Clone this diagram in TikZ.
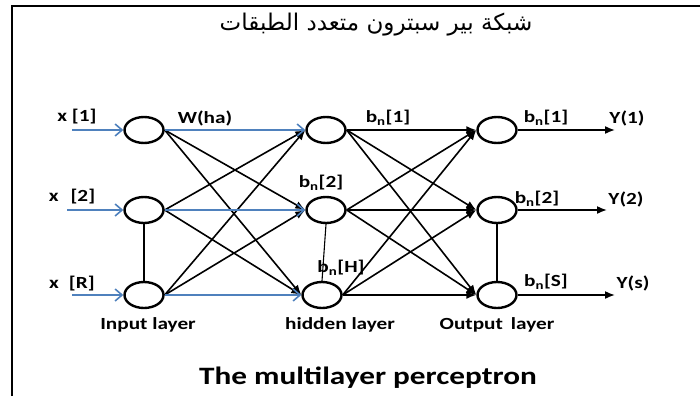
\documentclass[tikz,border=0pt]{standalone}
\usepackage{fontspec}
\setmainfont{Carlito}[FakeStretch=1.25]
\newfontfamily\arabicfont[Script=Arabic]{DejaVu Sans}
\TeXXeTstate=1
\usetikzlibrary{shapes.geometric,arrows.meta}
\definecolor{feedblue}{RGB}{79,129,189}

\begin{document}
\begin{tikzpicture}[x=1pt,y=-1pt,
    neuron/.style={draw,ellipse,line width=2.4pt,minimum width=39pt,
        minimum height=26pt,inner sep=0pt},
    feed/.style={line width=1.6pt,feedblue,
        -{Straight Barb[length=7pt,width=12pt]}},
    link/.style={line width=1.6pt,-{Latex[length=10pt,width=8pt]}},
    tie/.style={line width=1.1pt},
    lbl/.style={font=\fontsize{17}{17}\selectfont\bfseries,inner sep=0pt}]

    \useasboundingbox (0,0) rectangle (700,396);
    \draw [line width=2pt] (12,396) -- (12,6) -- (700,6);

    % neurons
    \node[neuron] (in1) at (144,130) {};
    \node[neuron] (in2) at (144,210) {};
    \node[neuron] (in3) at (144,295) {};
    \node[neuron] (hid1) at (326,130) {};
    \node[neuron] (hid2) at (326,210) {};
    \node[neuron] (hid3) at (322,295) {};
    \node[neuron] (out1) at (497,130) {};
    \node[neuron] (out2) at (497,210) {};
    \node[neuron] (out3) at (497,295) {};

    \coordinate (src1) at (72,130);
    \coordinate (src2) at (67,210);
    \coordinate (src3) at (72,295);
    \coordinate (dst1) at (615,130);
    \coordinate (dst2) at (607,210);
    \coordinate (dst3) at (615,295);

    % inputs and outputs
    \draw [feed] (src1) -- (in1.west);
    \draw [feed] (src2) -- (in2.west);
    \draw [feed] (src3) -- (in3.west);
    \draw [link] (out1.east) -- (dst1);
    \draw [link] (out2.east) -- (dst2);
    \draw [link] (out3.east) -- (dst3);

    % input layer -> hidden layer
    \draw [link] (in1.east) -- (hid2.west);
    \draw [link] (in1.east) -- (hid3.west);
    \draw [link] (in2.east) -- (hid1.west);
    \draw [link] (in2.east) -- (hid3.west);
    \draw [link] (in3.east) -- (hid1.west);
    \draw [link] (in3.east) -- (hid2.west);
    \draw [feed] (in1.east) -- (hid1.west);
    \draw [feed] (in2.east) -- (hid2.west);
    \draw [feed] (in3.east) -- (hid3.west);

    % hidden layer -> output layer
    \draw [link] (hid1.east) -- (out1.west);
    \draw [link] (hid1.east) -- (out2.west);
    \draw [link] (hid1.east) -- (out3.west);
    \draw [link] (hid2.east) -- (out1.west);
    \draw [link] (hid2.east) -- (out2.west);
    \draw [link] (hid2.east) -- (out3.west);
    \draw [link] (hid3.east) -- (out1.west);
    \draw [link] (hid3.east) -- (out2.west);
    \draw [link] (hid3.east) -- (out3.west);

    \draw [tie] (in2.south) -- (in3.north);
    \draw [tie] (hid2.south) -- (hid3.north);
    \draw [tie] (out2.south) -- (out3.north);

    % labels
    \node[lbl] (xa) at (77,117) {x [1]};
    \node[lbl] (xb) at (72,197) {x\hspace{12pt}[2]};
    \node[lbl] (xc) at (72,284) {x\hspace{10pt}[R]};
    \node[lbl] (wha) at (205,118) {W(ha)};
    \node[lbl] (bh1) at (388,118) {b\textsubscript{n}[1]};
    \node[lbl] (bh2) at (321,183) {b\textsubscript{n}[2]};
    \node[lbl] (bh3) at (341,268) {b\textsubscript{n}[H]};
    \node[lbl] (bo1) at (546,118) {b\textsubscript{n}[1]};
    \node[lbl] (bo2) at (537,199) {b\textsubscript{n}[2]};
    \node[lbl] (bo3) at (546,282) {b\textsubscript{n}[S]};
    \node[lbl] (ya) at (627,118) {Y(1)};
    \node[lbl] (yb) at (626,199) {Y(2)};
    \node[lbl] (yc) at (633,283) {Y(s)};
    \node[lbl] (inlayer) at (148,325) {Input layer};
    \node[lbl] (hidlayer) at (340,325) {hidden layer};
    \node[lbl] (outlayer) at (497,325) {Output\hspace{8pt}layer};

    \node[inner sep=0pt,font=\fontsize{25}{25}\selectfont\bfseries]
        (caption) at (368,378) {The multilayer perceptron};
    \node[inner sep=0pt,font=\fontsize{23}{23}\selectfont]
        (titlear) at (376,25) {\arabicfont\beginR شبكة بير سبترون متعدد الطبقات\endR};
\end{tikzpicture}
\end{document}
